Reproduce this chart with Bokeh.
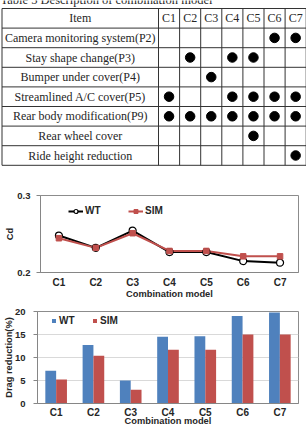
from bokeh.plotting import figure
from bokeh.layouts import column
from bokeh.models import (Range1d, FixedTicker, Legend, LegendItem,
                          ColumnDataSource)
from bokeh.transform import dodge
from bokeh.core.properties import value
from bokeh.embed import file_html
from bokeh.resources import INLINE

# ---- data -------------------------------------------------------------
combos = ["C1", "C2", "C3", "C4", "C5", "C6", "C7"]
items = [
    "Camera monitoring system(P2)",
    "Stay shape change(P3)",
    "Bumper under cover(P4)",
    "Streamlined A/C cover(P5)",
    "Rear body modification(P9)",
    "Rear wheel cover",
    "Ride height reduction",
]
# 1 = the item is part of the combination model
included = [
    [0, 0, 0, 0, 0, 1, 1],
    [0, 1, 0, 1, 1, 0, 0],
    [0, 0, 1, 0, 0, 0, 0],
    [1, 0, 0, 1, 1, 1, 1],
    [1, 1, 1, 1, 1, 1, 1],
    [0, 0, 0, 0, 1, 0, 0],
    [0, 0, 0, 0, 0, 0, 1],
]
cd_wt = [0.248, 0.232, 0.2545, 0.2265, 0.2265, 0.2148, 0.2127]
cd_sim = [0.2445, 0.232, 0.251, 0.228, 0.228, 0.221, 0.221]
red_wt = [7.1, 12.7, 5.0, 14.5, 14.6, 19.0, 19.8]
red_sim = [5.2, 10.4, 3.0, 11.7, 11.7, 15.0, 15.0]

SERIF = value("Liberation Serif")
SANS = "Liberation Sans"
INK = "#262626"
BLUE = "#4f81bd"
RED = "#c0504d"

# ---- table ------------------------------------------------------------
TW, TH = 306, 168
t = figure(width=TW, height=TH, x_range=Range1d(0, TW), y_range=Range1d(TH, 0),
           min_border=0, min_border_left=0, min_border_right=0,
           min_border_top=0, min_border_bottom=0, frame_align=False,
           toolbar_location=None, output_backend="svg")
t.axis.visible = False
t.grid.visible = False
t.outline_line_color = None
t.background_fill_color = "white"

left, item_right, col_w = 1.5, 158.0, 21.1
top, row_h = 8.0, 19.6
col_edges = [left, item_right] + [item_right + col_w * (i + 1) for i in range(len(combos))]
row_edges = [top + row_h * i for i in range(len(items) + 2)]
right, bottom = col_edges[-1], row_edges[-1]

t.segment(x0=[left] * len(row_edges), y0=row_edges, x1=[right] * len(row_edges),
          y1=row_edges, line_color="#333333", line_width=1)
t.segment(x0=col_edges, y0=[top] * len(col_edges), x1=col_edges,
          y1=[bottom] * len(col_edges), line_color="#333333", line_width=1)

col_centers = [(col_edges[i + 1] + col_edges[i + 2]) / 2 for i in range(len(combos))]
row_centers = [(row_edges[i] + row_edges[i + 1]) / 2 for i in range(len(items) + 1)]
item_center = (left + item_right) / 2

t.text(x=[0], y=[-0.5], text=["Table  5  Description of combination model"],
       text_font=SERIF, text_font_size="12.5px", text_color=INK,
       text_baseline="alphabetic", text_align="left")
t.text(x=[item_center] + col_centers, y=[row_centers[0]] * (len(combos) + 1),
       text=["Item"] + combos, text_font=SERIF, text_font_size="12px",
       text_color=INK, text_align="center", text_baseline="middle")
t.text(x=[item_center] * len(items), y=row_centers[1:], text=items,
       text_font=SERIF, text_font_size="12px", text_color=INK,
       text_align="center", text_baseline="middle")

dot_x, dot_y = [], []
for r, row in enumerate(included):
    for c, flag in enumerate(row):
        if flag:
            dot_x.append(col_centers[c])
            dot_y.append(row_centers[r + 1])
t.scatter(dot_x, dot_y, marker="circle", size=9.5, color="black")


def style_axes(p):
    for ax in (p.xaxis, p.yaxis):
        ax.axis_label_text_font = SANS
        ax.axis_label_text_font_style = "bold"
        ax.axis_label_text_font_size = "9.3px"
        ax.axis_label_text_color = INK
        ax.major_label_text_font = SANS
        ax.major_label_text_font_style = "bold"
        ax.major_label_text_color = INK
        ax.axis_line_color = "#868686"
        ax.minor_tick_line_color = None
        ax.major_tick_in = 0
    p.xaxis.major_label_text_font_size = "10px"
    p.yaxis.major_label_text_font_size = "9.5px"
    p.xaxis.major_tick_line_color = None
    p.xaxis.major_tick_out = 0
    p.yaxis.major_tick_out = 4
    p.yaxis.major_tick_line_color = "#868686"
    p.outline_line_color = "#8c8c8c"
    p.background_fill_color = "white"
    p.border_fill_color = "white"


# ---- Cd line chart ----------------------------------------------------
p1 = figure(width=306, height=135, x_range=combos, y_range=Range1d(0.2, 0.3),
            min_border_left=40, min_border_right=8, min_border_top=27,
            min_border_bottom=31, frame_align=False,
            toolbar_location=None, output_backend="svg")
style_axes(p1)
p1.grid.visible = False
p1.yaxis.ticker = FixedTicker(ticks=[0.2, 0.3])
p1.yaxis.axis_label = "Cd"
p1.yaxis.major_label_standoff = 6
p1.yaxis.axis_label_standoff = -1
p1.xaxis.axis_label = "Combination model"
p1.xaxis.major_label_standoff = 4
p1.xaxis.axis_label_standoff = -2

wt_line = p1.line(combos, cd_wt, line_color="black", line_width=2)
sim_line = p1.line(combos, cd_sim, line_color=RED, line_width=2)
wt_pts = p1.scatter(combos, cd_wt, marker="circle", size=7, fill_color="white",
                    line_color="black", line_width=1.2)
sim_pts = p1.scatter(combos, cd_sim, marker="square", size=5.5, color=RED)

leg1 = Legend(items=[LegendItem(label="WT", renderers=[wt_line, wt_pts]),
                     LegendItem(label="SIM", renderers=[sim_line, sim_pts])],
              orientation="horizontal", location=(28, 56), padding=0, margin=0,
              spacing=23, glyph_width=15, glyph_height=10, label_standoff=2,
              border_line_color=None, background_fill_alpha=0,
              label_text_font=SANS, label_text_font_style="bold",
              label_text_font_size="10px", label_text_color=INK)
p1.add_layout(leg1)

# ---- drag reduction bar chart -----------------------------------------
src = ColumnDataSource(dict(combo=combos, wt=red_wt, sim=red_sim))
p2 = figure(width=306, height=125, x_range=combos, y_range=Range1d(0, 20),
            min_border_left=37, min_border_right=8, min_border_top=8,
            min_border_bottom=23, frame_align=False,
            toolbar_location=None, output_backend="svg")
style_axes(p2)
p2.xgrid.visible = False
p2.ygrid.ticker = FixedTicker(ticks=[5, 10, 15])
p2.ygrid.grid_line_color = "#d9d9d9"
p2.yaxis.ticker = FixedTicker(ticks=[0, 5, 10, 15, 20])
p2.yaxis.axis_label = "Drag reduction(%)"
p2.yaxis.major_label_standoff = 8
p2.yaxis.axis_label_standoff = -2
p2.xaxis.axis_label = "Combination model"
p2.xaxis.major_label_standoff = 3
p2.xaxis.axis_label_standoff = -5

b_wt = p2.vbar(x=dodge("combo", -0.145, range=p2.x_range), top="wt", width=0.29,
               source=src, fill_color=BLUE, line_color=None)
b_sim = p2.vbar(x=dodge("combo", 0.145, range=p2.x_range), top="sim", width=0.29,
                source=src, fill_color=RED, line_color=None)

leg2 = Legend(items=[LegendItem(label="WT", renderers=[b_wt]),
                     LegendItem(label="SIM", renderers=[b_sim])],
              orientation="horizontal", location=(14, 77), padding=0, margin=0,
              spacing=13, glyph_width=5, glyph_height=5, label_standoff=3,
              border_line_color=None, background_fill_alpha=0,
              label_text_font=SANS, label_text_font_style="bold",
              label_text_font_size="10px", label_text_color=INK)
p2.add_layout(leg2)

layout = column(t, p1, p2, spacing=0)
open("out.html", "w").write(file_html(layout, INLINE))
